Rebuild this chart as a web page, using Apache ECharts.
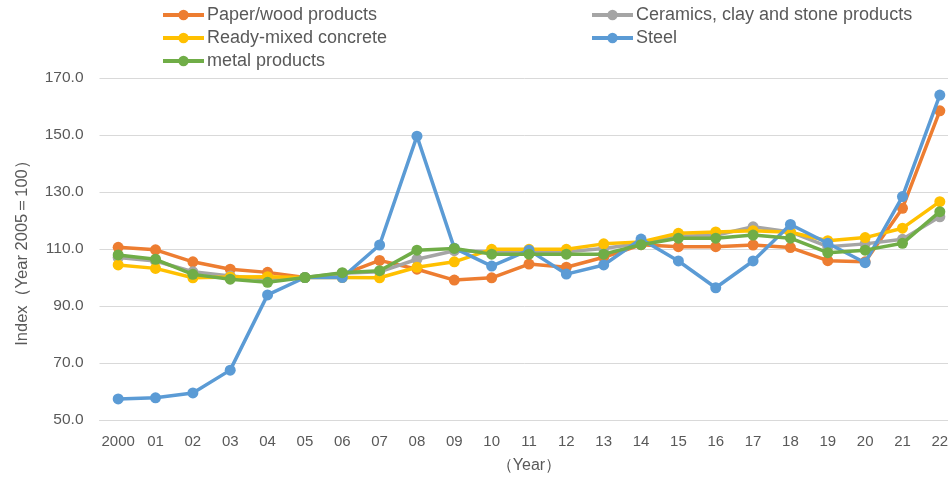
<!DOCTYPE html>
<html>
<head>
<meta charset="utf-8">
<script src="https://cdn.jsdelivr.net/npm/echarts@6/dist/echarts.min.js"></script>
<style>
  html, body { margin: 0; padding: 0; background: #fff; }
  #chart { width: 948px; height: 477px; }
</style>
</head>
<body>
<div id="chart"></div>
<script>
// 年份（横轴）
const years = ["2000", "01", "02", "03", "04", "05", "06", "07", "08", "09", "10",
  "11", "12", "13", "14", "15", "16", "17", "18", "19", "20", "21", "22"];

const yTicks = [50, 70, 90, 110, 130, 150, 170];

// 各系列数值（2005年=100）
const paperWood = [110.6, 109.7, 105.5, 102.9, 101.8, 100.0, 101.0, 106.0, 102.9, 99.1, 99.9,
  104.7, 103.6, 107.1, 111.5, 110.8, 110.8, 111.4, 110.5, 105.9, 105.5, 124.3, 158.5];
const ceramics = [107.0, 105.8, 102.0, 100.5, 99.5, 100.0, 101.5, 102.0, 106.4, 109.4, 109.0,
  109.0, 109.0, 110.2, 112.0, 114.5, 114.8, 117.8, 116.0, 110.8, 111.8, 113.4, 121.3];
const readyMixed = [104.4, 103.2, 99.9, 100.2, 100.3, 100.0, 100.0, 99.9, 103.6, 105.5, 109.9,
  109.9, 109.9, 111.8, 112.5, 115.5, 116.0, 116.4, 115.9, 112.9, 114.0, 117.3, 126.6];
const steel = [57.4, 57.8, 59.5, 67.5, 93.9, 100.0, 100.0, 111.4, 149.6, 110.3, 104.0,
  109.6, 101.2, 104.4, 113.5, 105.8, 96.4, 105.8, 118.6, 112.0, 105.2, 128.4, 164.0];
const metal = [107.9, 106.4, 101.1, 99.4, 98.3, 100.0, 101.7, 102.4, 109.6, 110.2, 108.2,
  108.2, 108.2, 108.2, 111.5, 113.8, 113.8, 114.9, 113.8, 108.7, 109.6, 112.0, 123.1];

const names = ["Paper/wood products", "Ceramics, clay and stone products",
  "Ready-mixed concrete", "Steel", "metal products"];
const values = [paperWood, ceramics, readyMixed, steel, metal];
const colors = ["#ED7D31", "#A5A5A5", "#FFC000", "#5B9BD5", "#70AD47"];

// 图例位置（两列）
const legendPos = [
  { left: 161, top: 6 },
  { left: 590, top: 6 },
  { left: 161, top: 29 },
  { left: 590, top: 29 },
  { left: 161, top: 52 },
];

const textColor = "#595959";
const font = "'Liberation Sans', Arial, sans-serif";

const chart = echarts.init(document.getElementById("chart"));

const option = {
  backgroundColor: "#fff",
  animation: false,
  color: colors,
  grid: {
    left: 99.5,
    top: 78,
    width: 859,
    height: 342,
    outerBoundsMode: "none",
  },
  legend: names.map((n, i) => ({
    data: [n],
    left: legendPos[i].left,
    top: legendPos[i].top,
    padding: 0,
    itemWidth: 41,
    itemHeight: 13,
    itemGap: 0,
    lineStyle: { width: 4 },
    textStyle: { color: textColor, fontSize: 18, fontFamily: font, padding: [0, 0, 0, -2] },
  })),
  xAxis: {
    type: "category",
    data: years,
    boundaryGap: true,
    name: "（Year）",
    nameLocation: "middle",
    nameGap: 38,
    nameTextStyle: { color: textColor, fontSize: 16, fontFamily: font },
    axisLine: { lineStyle: { color: "#D9D9D9", width: 1 } },
    axisTick: { show: false },
    axisLabel: { color: textColor, fontSize: 15, fontFamily: font, margin: 14, interval: 0 },
  },
  yAxis: {
    type: "value",
    min: yTicks[0],
    max: yTicks[yTicks.length - 1],
    interval: 20,
    name: "Index（Year 2005＝100）",
    nameLocation: "middle",
    nameGap: 69,
    nameTextStyle: { color: textColor, fontSize: 16.5, fontFamily: font },
    axisLine: { show: false },
    axisTick: { show: false },
    axisLabel: {
      color: textColor,
      fontSize: 15.5,
      fontFamily: font,
      margin: 16,
      formatter: (v) => v.toFixed(1),
    },
    splitLine: { lineStyle: { color: "#D9D9D9", width: 1 } },
  },
  series: names.map((n, i) => ({
    name: n,
    type: "line",
    data: values[i],
    symbol: "circle",
    symbolSize: 11,
    lineStyle: { width: 3.5, color: colors[i] },
    itemStyle: { color: colors[i] },
    z: 2 + i,
  })),
};

chart.setOption(option);
</script>
</body>
</html>
